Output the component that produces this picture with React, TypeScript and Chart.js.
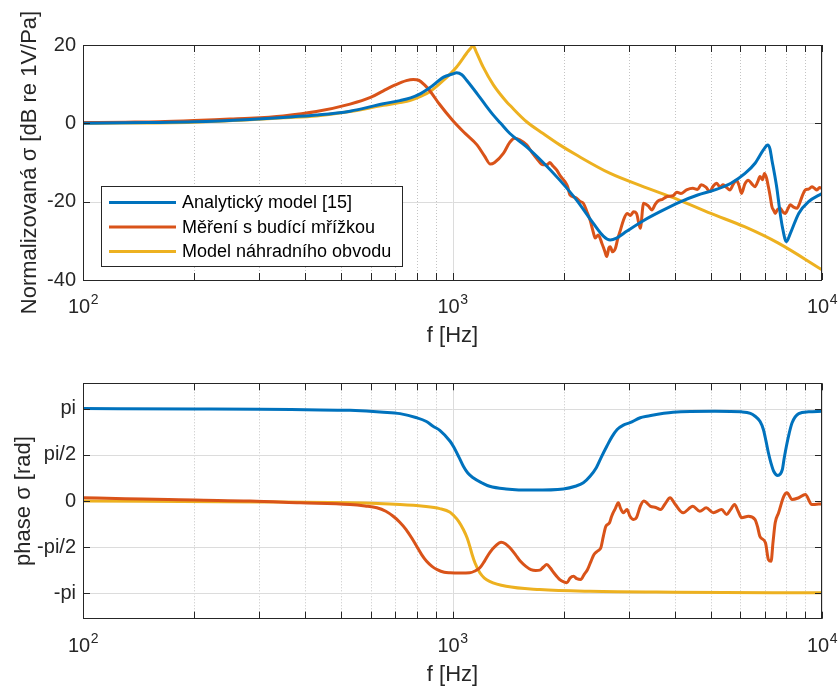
import React, { useEffect, useRef } from 'react';
import { Chart, registerables } from 'chart.js';

Chart.register(...registerables);

const FONT = '"Liberation Sans", Arial, Helvetica, sans-serif';
const AXIS_COLOR = '#262626';
const COLORS = ['#0072BD', '#D95319', '#EDB120'];

const seriesLabels = ['Analytický model [15]', 'Měření s budící mřížkou', 'Model náhradního obvodu'];

const xDecades = [100, 1000, 10000];
const xExponents = ['2', '3', '4'];
const xMinorTicks = [200, 300, 400, 500, 600, 700, 800, 900, 2000, 3000, 4000, 5000, 6000, 7000, 8000, 9000];

const magTicks = [-40, -20, 0, 20];
const phaseTickValues = [-Math.PI, -Math.PI / 2, 0, Math.PI / 2, Math.PI];
const phaseTickLabels = ['-pi', '-pi/2', '0', 'pi/2', 'pi'];

// ---------- Magnitude (dB) ----------
const magAnalyticF = [100, 150, 200, 283, 348, 428, 528, 650, 720, 770, 820, 866, 946, 1000, 1026, 1060, 1092, 1165, 1230, 1290, 1350, 1430, 1587, 1759, 1951, 2167, 2403, 2560, 2673, 2780, 2967, 3293, 3658, 4150, 4610, 5130, 5670, 6190, 6590, 6940, 7130, 7230, 7320, 7440, 7560, 7680, 7810, 8010, 8210, 8650, 9200, 10000];
const magAnalyticV = [0.0, 0.2, 0.4, 1.0, 1.5, 2.1, 3.1, 5.0, 5.8, 6.5, 7.6, 9.0, 11.8, 12.6, 12.9, 12.4, 11.0, 7.6, 4.6, 2.1, 0.0, -2.6, -6.0, -10.0, -14.5, -19.6, -25.5, -28.8, -29.8, -29.3, -27.5, -24.8, -22.5, -20.0, -18.3, -17.0, -15.3, -12.8, -10.2, -6.8, -5.5, -6.5, -9.4, -13.0, -17.0, -22.0, -26.4, -30.2, -28.1, -23.0, -20.0, -17.9];

const magMeasuredF = [100, 130, 160, 200, 250, 283, 348, 428, 528, 600, 650, 700, 750, 783, 810, 840, 870, 920, 1000, 1080, 1165, 1220, 1266, 1300, 1373, 1430, 1475, 1520, 1587, 1640, 1688, 1759, 1800, 1834, 1870, 1913, 1960, 2015, 2050, 2079, 2130, 2167, 2210, 2260, 2310, 2357, 2400, 2433, 2480, 2536, 2580, 2616, 2650, 2673, 2710, 2760, 2800, 2849, 2900, 2967, 3030, 3092, 3148, 3222, 3290, 3380, 3467, 3540, 3615, 3700, 3810, 3950, 4050, 4150, 4300, 4470, 4600, 4711, 4850, 4968, 5080, 5180, 5300, 5400, 5520, 5630, 5750, 5870, 5960, 6059, 6180, 6318, 6450, 6586, 6700, 6794, 6900, 6987, 7080, 7160, 7240, 7320, 7400, 7470, 7580, 7710, 7830, 7960, 8080, 8210, 8380, 8560, 8700, 8830, 9010, 9200, 9390, 9540, 9690, 9850, 10000];
const magMeasuredV = [0.2, 0.3, 0.4, 0.7, 1.1, 1.3, 1.9, 3.0, 4.9, 6.6, 8.3, 9.8, 10.9, 11.2, 11.0, 9.8, 8.2, 5.0, 0.8, -2.5, -5.5, -8.3, -10.4, -10.0, -7.7, -4.8, -3.8, -4.2, -5.5, -7.4, -8.9, -10.6, -10.6, -10.0, -10.9, -11.9, -13.5, -14.9, -16.2, -18.3, -18.8, -19.1, -19.9, -20.4, -22.5, -24.7, -27.5, -29.3, -28.5, -30.6, -32.5, -34.0, -31.8, -31.5, -32.8, -31.9, -29.5, -27.2, -24.8, -23.0, -23.5, -22.6, -23.0, -26.8, -20.4, -21.0, -22.1, -20.6, -19.7, -19.4, -18.7, -18.5, -17.6, -17.9, -17.0, -16.6, -16.9, -15.7, -16.3, -17.4, -16.0, -15.3, -16.2, -15.7, -16.4, -17.0, -15.6, -14.5, -15.8, -17.9, -15.5, -14.5, -15.4, -16.2, -14.9, -13.6, -14.4, -12.8, -14.0, -16.2, -18.6, -21.3, -22.2, -23.0, -22.0, -21.7, -22.6, -23.0, -21.9, -20.8, -21.4, -21.7, -20.4, -18.7, -17.0, -16.8, -16.2, -16.6, -17.0, -16.4, -16.6];

const magCircuitF = [100, 200, 283, 348, 428, 528, 650, 720, 770, 820, 866, 946, 1026, 1092, 1120, 1137, 1160, 1210, 1290, 1400, 1430, 1587, 1759, 1951, 2167, 2673, 3293, 4060, 5003, 6170, 7620, 10000];
const magCircuitV = [0.0, 0.3, 0.9, 1.4, 1.9, 3.0, 4.6, 5.3, 5.9, 6.9, 8.0, 11.0, 14.4, 17.9, 19.2, 19.8, 18.2, 14.4, 9.8, 5.5, 4.6, 0.4, -2.6, -5.5, -8.1, -12.8, -16.2, -19.4, -23.0, -26.4, -30.6, -37.4];

// ---------- Phase (rad) ----------
const phaseAnalyticF = [100, 200, 300, 400, 528, 650, 721, 800, 850, 886, 924, 985, 1005, 1040, 1070, 1100, 1137, 1200, 1260, 1397, 1655, 1995, 2150, 2260, 2360, 2450, 2530, 2616, 2700, 2790, 2900, 3022, 3222, 3357, 3953, 5130, 6059, 6400, 6590, 6800, 6940, 7050, 7160, 7280, 7400, 7590, 7810, 7900, 8010, 8150, 8300, 8650, 9200, 10000];
const phaseAnalyticV = [3.14, 3.13, 3.12, 3.10, 3.08, 3.02, 2.97, 2.83, 2.70, 2.54, 2.40, 2.03, 1.86, 1.50, 1.18, 0.95, 0.79, 0.62, 0.50, 0.41, 0.37, 0.41, 0.50, 0.62, 0.85, 1.13, 1.50, 1.86, 2.18, 2.43, 2.58, 2.66, 2.83, 2.88, 3.02, 3.05, 3.03, 2.98, 2.88, 2.70, 2.43, 2.05, 1.64, 1.28, 1.01, 0.87, 1.07, 1.45, 1.86, 2.30, 2.66, 2.97, 3.03, 3.05];

const phaseMeasuredF = [100, 130, 170, 200, 283, 387, 528, 580, 624, 660, 691, 720, 749, 775, 800, 825, 851, 880, 909, 950, 985, 1050, 1114, 1150, 1186, 1220, 1260, 1310, 1354, 1390, 1430, 1480, 1527, 1580, 1630, 1680, 1723, 1760, 1800, 1840, 1880, 1951, 2000, 2039, 2080, 2127, 2170, 2223, 2270, 2320, 2370, 2415, 2470, 2520, 2560, 2600, 2660, 2690, 2720, 2760, 2810, 2850, 2900, 2967, 3022, 3092, 3148, 3222, 3293, 3435, 3550, 3658, 3760, 3880, 4000, 4210, 4470, 4670, 4860, 5080, 5350, 5520, 5650, 5800, 5930, 6060, 6320, 6590, 6700, 6790, 7030, 7160, 7280, 7370, 7470, 7630, 7880, 8040, 8300, 8650, 9010, 9390, 10000];
const phaseMeasuredV = [0.11, 0.08, 0.05, 0.03, 0.0, -0.06, -0.12, -0.17, -0.23, -0.35, -0.52, -0.72, -0.97, -1.25, -1.54, -1.82, -2.05, -2.22, -2.33, -2.42, -2.44, -2.45, -2.44, -2.38, -2.27, -2.05, -1.76, -1.52, -1.40, -1.45, -1.59, -1.82, -2.05, -2.22, -2.33, -2.36, -2.35, -2.25, -2.16, -2.28, -2.44, -2.67, -2.75, -2.78, -2.62, -2.56, -2.64, -2.67, -2.50, -2.33, -2.05, -1.82, -1.70, -1.59, -1.20, -0.86, -0.74, -0.55, -0.40, -0.25, -0.06, -0.25, -0.40, -0.29, -0.52, -0.63, -0.56, -0.18, 0.0, -0.18, -0.22, -0.29, -0.10, 0.11, -0.10, -0.40, -0.18, -0.35, -0.23, -0.40, -0.29, -0.46, -0.30, -0.12, -0.35, -0.57, -0.52, -0.63, -0.90, -1.20, -1.42, -1.99, -2.05, -1.40, -0.74, -0.40, 0.16, 0.28, 0.05, 0.11, 0.22, -0.12, -0.09];

const phaseCircuitF = [100, 300, 528, 721, 835, 924, 985, 1005, 1040, 1070, 1095, 1114, 1130, 1150, 1186, 1220, 1260, 1397, 1723, 2357, 4000, 10000];
const phaseCircuitV = [0.0, -0.03, -0.06, -0.12, -0.18, -0.26, -0.38, -0.48, -0.70, -0.97, -1.25, -1.54, -1.82, -2.10, -2.44, -2.62, -2.73, -2.90, -3.01, -3.07, -3.10, -3.12];

const toPoints = (f: number[], v: number[]) => f.map((x, i) => ({ x, y: v[i] }));

const matlabPlugin = {
  id: 'matlabAxes',
  beforeDatasetsDraw(chart: any) {
    const { ctx, chartArea } = chart;
    const { left, right, top, bottom } = chartArea;
    const xs = chart.scales.x;
    const ys = chart.scales.y;
    ctx.save();
    ctx.lineWidth = 1;
    ctx.strokeStyle = '#c4c4c4';
    ctx.setLineDash([1, 2]);
    xMinorTicks.forEach((f) => {
      const px = Math.round(xs.getPixelForValue(f)) + 0.5;
      ctx.beginPath();
      ctx.moveTo(px, top);
      ctx.lineTo(px, bottom);
      ctx.stroke();
    });
    ctx.setLineDash([]);
    ctx.strokeStyle = '#dcdcdc';
    xDecades.forEach((f) => {
      const px = Math.round(xs.getPixelForValue(f)) + 0.5;
      ctx.beginPath();
      ctx.moveTo(px, top);
      ctx.lineTo(px, bottom);
      ctx.stroke();
    });
    ys.ticks.forEach((t: any) => {
      const py = Math.round(ys.getPixelForValue(t.value)) + 0.5;
      ctx.beginPath();
      ctx.moveTo(left, py);
      ctx.lineTo(right, py);
      ctx.stroke();
    });
    ctx.restore();
  },
  afterDatasetsDraw(chart: any) {
    const { ctx, chartArea } = chart;
    const { left, right, top, bottom } = chartArea;
    const xs = chart.scales.x;
    const ys = chart.scales.y;
    const tick = 7;
    ctx.save();
    ctx.strokeStyle = AXIS_COLOR;
    ctx.lineWidth = 1;
    [...xDecades, ...xMinorTicks].forEach((f) => {
      const px = Math.round(xs.getPixelForValue(f)) + 0.5;
      ctx.beginPath();
      ctx.moveTo(px, bottom);
      ctx.lineTo(px, bottom - tick);
      ctx.moveTo(px, top);
      ctx.lineTo(px, top + tick);
      ctx.stroke();
    });
    ys.ticks.forEach((t: any) => {
      const py = Math.round(ys.getPixelForValue(t.value)) + 0.5;
      ctx.beginPath();
      ctx.moveTo(left, py);
      ctx.lineTo(left + tick, py);
      ctx.moveTo(right, py);
      ctx.lineTo(right - tick, py);
      ctx.stroke();
    });
    ctx.strokeRect(Math.round(left) + 0.5, Math.round(top) + 0.5, Math.round(right - left) - 1, Math.round(bottom - top));
    ctx.fillStyle = AXIS_COLOR;
    ctx.textBaseline = 'alphabetic';
    ctx.textAlign = 'left';
    xDecades.forEach((f, i) => {
      const px = xs.getPixelForValue(f);
      ctx.font = `20px ${FONT}`;
      const w1 = ctx.measureText('10').width;
      ctx.font = `14px ${FONT}`;
      const w2 = ctx.measureText(xExponents[i]).width;
      const x0 = px - (w1 + w2) / 2;
      ctx.font = `20px ${FONT}`;
      ctx.fillText('10', x0, bottom + 33);
      ctx.font = `14px ${FONT}`;
      ctx.fillText(xExponents[i], x0 + w1 + 0.5, bottom + 24);
    });
    ctx.restore();
  },
  afterDraw(chart: any, _args: any, opts: any) {
    if (!opts || !opts.legend) return;
    const { ctx, chartArea } = chart;
    const x0 = chartArea.left + 18;
    const y0 = chartArea.top + 141;
    const w = 301;
    const h = 80;
    ctx.save();
    ctx.fillStyle = '#ffffff';
    ctx.fillRect(x0, y0, w, h);
    ctx.strokeStyle = AXIS_COLOR;
    ctx.lineWidth = 1;
    ctx.strokeRect(x0 + 0.5, y0 + 0.5, w, h);
    chart.data.datasets.forEach((ds: any, i: number) => {
      const ly = y0 + 16.5 + i * 24.5;
      ctx.strokeStyle = ds.borderColor;
      ctx.lineWidth = 3;
      ctx.beginPath();
      ctx.moveTo(x0 + 8, ly);
      ctx.lineTo(x0 + 75, ly);
      ctx.stroke();
      ctx.fillStyle = '#000000';
      ctx.font = `18px ${FONT}`;
      ctx.textAlign = 'left';
      ctx.textBaseline = 'middle';
      ctx.fillText(ds.label, x0 + 81, ly + 1);
    });
    ctx.restore();
  },
};

function makeDatasets(pairs: [number[], number[]][]) {
  return pairs.map(([f, v], i) => ({
    label: seriesLabels[i],
    data: toPoints(f, v),
    borderColor: COLORS[i],
    backgroundColor: COLORS[i],
    borderWidth: 3,
    pointRadius: 0,
    fill: false,
    cubicInterpolationMode: 'monotone' as const,
  }));
}

function xScale(height: number, titlePadBottom: number) {
  return {
    type: 'logarithmic' as const,
    position: 'bottom' as const,
    min: 100,
    max: 10000,
    ticks: { display: false },
    grid: { display: false, drawTicks: false },
    border: { display: false },
    title: {
      display: true,
      text: 'f [Hz]',
      color: AXIS_COLOR,
      font: { family: FONT, size: 22 },
      padding: { top: 0, bottom: titlePadBottom },
    },
    afterFit: (s: any) => {
      s.height = height;
    },
  };
}

export default function App() {
  const topRef = useRef<HTMLCanvasElement>(null);
  const botRef = useRef<HTMLCanvasElement>(null);

  useEffect(() => {
    Chart.defaults.font.family = FONT;
    const top = new Chart(topRef.current as HTMLCanvasElement, {
      type: 'line',
      data: {
        datasets: makeDatasets([
          [magAnalyticF, magAnalyticV],
          [magMeasuredF, magMeasuredV],
          [magCircuitF, magCircuitV],
        ]),
      },
      options: {
        animation: false,
        responsive: false,
        layout: { padding: { top: 45, right: 16, left: 0, bottom: 0 } },
        plugins: {
          legend: { display: false },
          tooltip: { enabled: false },
          matlabAxes: { legend: true },
        } as any,
        scales: {
          x: xScale(80, 10.8),
          y: {
            min: -40,
            max: 20,
            afterBuildTicks: (s: any) => {
              s.ticks = magTicks.map((v) => ({ value: v }));
            },
            ticks: { color: AXIS_COLOR, font: { family: FONT, size: 20 }, padding: 7 },
            grid: { display: false, drawTicks: false },
            border: { display: false },
            title: {
              display: true,
              text: 'Normalizovaná σ [dB re 1V/Pa]',
              color: AXIS_COLOR,
              font: { family: FONT, size: 22 },
              padding: { top: 16.8, bottom: 0 },
            },
            afterFit: (s: any) => {
              s.width = 83;
            },
          },
        },
      },
      plugins: [matlabPlugin],
    });

    const bot = new Chart(botRef.current as HTMLCanvasElement, {
      type: 'line',
      data: {
        datasets: makeDatasets([
          [phaseAnalyticF, phaseAnalyticV],
          [phaseMeasuredF, phaseMeasuredV],
          [phaseCircuitF, phaseCircuitV],
        ]),
      },
      options: {
        animation: false,
        responsive: false,
        layout: { padding: { top: 23.3, right: 16, left: 0, bottom: 0 } },
        plugins: {
          legend: { display: false },
          tooltip: { enabled: false },
          matlabAxes: { legend: false },
        } as any,
        scales: {
          x: xScale(69.3, 0),
          y: {
            min: -4,
            max: 4,
            afterBuildTicks: (s: any) => {
              s.ticks = phaseTickValues.map((v) => ({ value: v }));
            },
            ticks: {
              color: AXIS_COLOR,
              font: { family: FONT, size: 20 },
              padding: 7,
              callback: (_v: any, i: number) => phaseTickLabels[i],
            },
            grid: { display: false, drawTicks: false },
            border: { display: false },
            title: {
              display: true,
              text: 'phase σ [rad]',
              color: AXIS_COLOR,
              font: { family: FONT, size: 22 },
              padding: { top: 10.3, bottom: 0 },
            },
            afterFit: (s: any) => {
              s.width = 83;
            },
          },
        },
      },
      plugins: [matlabPlugin],
    });

    return () => {
      top.destroy();
      bot.destroy();
    };
  }, []);

  return (
    <div style={{ position: 'absolute', left: 0, top: 0, width: 838, height: 688, background: '#ffffff' }}>
      <canvas ref={topRef} width={838} height={360} style={{ position: 'absolute', left: 0, top: 0 }} />
      <canvas ref={botRef} width={838} height={328} style={{ position: 'absolute', left: 0, top: 360 }} />
    </div>
  );
}
